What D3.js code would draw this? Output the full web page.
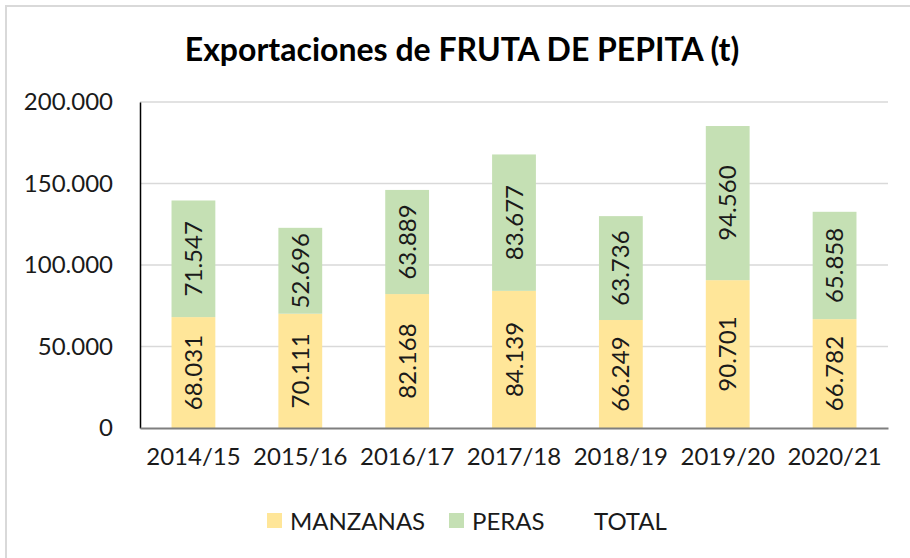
<!DOCTYPE html>
<html>
<head>
  <meta charset="utf-8">
  <title>Exportaciones de FRUTA DE PEPITA</title>
  <script src="https://cdn.jsdelivr.net/npm/d3@7"></script>
  <style>
    body { margin: 0; background: #fff; }
    text { font-family: Lato, "Liberation Sans", Arial, sans-serif; }
  </style>
</head>
<body>
  <script>
  // datos del grafico
  var campanas = ["2014/15", "2015/16", "2016/17", "2017/18", "2018/19", "2019/20", "2020/21"];
  var manzanas = [68031, 70111, 82168, 84139, 66249, 90701, 66782];
  var peras = [71547, 52696, 63889, 83677, 63736, 94560, 65858];
  var ticksY = [0, 50000, 100000, 150000, 200000];
  var series = ["MANZANAS", "PERAS", "TOTAL"];
  var colores = ["#FFE699", "#C5E0B4", "none"];

  var ancho = 910, alto = 558;
  var margen = {left: 140, right: 22, top: 102, bottom: 130};

  var svg = d3.select("body").append("svg")
      .attr("width", ancho)
      .attr("height", alto);

  // marco del grafico
  svg.append("rect")
      .attr("x", 6).attr("y", 6)
      .attr("width", ancho + 20).attr("height", alto + 20)
      .attr("fill", "#fff")
      .attr("stroke", "#d9d9d9")
      .attr("stroke-width", 2);

  svg.append("text")
      .attr("x", 462).attr("y", 61)
      .attr("text-anchor", "middle")
      .attr("font-size", 32)
      .attr("font-weight", "bold")
      .attr("fill", "#000")
      .text("Exportaciones de FRUTA DE PEPITA (t)");

  var x = d3.scaleBand()
      .domain(campanas)
      .range([margen.left, ancho - margen.right])
      .paddingInner(0.59)
      .paddingOuter(0.295);

  var y = d3.scaleLinear()
      .domain([0, 200000])
      .range([428, margen.top]);

  var fmt = d3.formatLocale({decimal: ",", thousands: ".", grouping: [3], currency: ["", ""]}).format(",");

  // lineas de division
  svg.append("g").selectAll("line")
      .data(ticksY.slice(1))
      .enter().append("line")
      .attr("x1", margen.left).attr("x2", ancho - margen.right)
      .attr("y1", function(d) { return y(d); })
      .attr("y2", function(d) { return y(d); })
      .attr("stroke", "#d9d9d9")
      .attr("stroke-width", 1.5);

  var ejeY = svg.append("g")
      .attr("transform", "translate(" + margen.left + ",0)")
      .call(d3.axisLeft(y).tickValues(ticksY).tickFormat(fmt).tickSize(0).tickPadding(27));
  ejeY.select(".domain").attr("stroke", "#000").attr("stroke-width", 1.5);
  ejeY.selectAll("text").attr("font-size", 24).attr("fill", "#1a1a1a")
      .attr("font-family", "Lato, 'Liberation Sans', Arial, sans-serif");

  // datos apilados
  var tabla = campanas.map(function(c, i) {
    return {campana: c, MANZANAS: manzanas[i], PERAS: peras[i]};
  });
  var pila = d3.stack().keys(["MANZANAS", "PERAS"])(tabla);

  var grupos = svg.append("g").selectAll("g")
      .data(pila)
      .enter().append("g")
      .attr("fill", function(d, i) { return colores[i]; });

  grupos.selectAll("rect")
      .data(function(d) { return d; })
      .enter().append("rect")
      .attr("x", function(d) { return x(d.data.campana); })
      .attr("width", x.bandwidth())
      .attr("y", function(d) { return y(d[1]); })
      .attr("height", function(d) { return y(d[0]) - y(d[1]); });

  grupos.selectAll("text")
      .data(function(d) { return d; })
      .enter().append("text")
      .attr("transform", function(d) {
        var cx = x(d.data.campana) + x.bandwidth() / 2;
        var cy = (y(d[0]) + y(d[1])) / 2;
        return "translate(" + cx + "," + cy + ") rotate(-90)";
      })
      .attr("text-anchor", "middle")
      .attr("dy", "0.36em")
      .attr("font-size", 24)
      .attr("fill", "#1a1a1a")
      .text(function(d) { return fmt(d[1] - d[0]); });

  var ejeX = svg.append("g")
      .attr("transform", "translate(0,428)")
      .call(d3.axisBottom(x).tickSize(0).tickPadding(20));
  ejeX.select(".domain").attr("stroke", "#7f7f7f").attr("stroke-width", 2);
  ejeX.selectAll("text").attr("font-size", 24).attr("fill", "#1a1a1a")
      .attr("font-family", "Lato, 'Liberation Sans', Arial, sans-serif");

  // leyenda
  var posLeyenda = [267, 449, 571];
  var leyenda = svg.append("g").selectAll("g")
      .data(series)
      .enter().append("g")
      .attr("transform", function(d, i) { return "translate(" + posLeyenda[i] + ",513)"; });
  leyenda.append("rect")
      .attr("width", 15).attr("height", 15)
      .attr("fill", function(d, i) { return colores[i]; });
  leyenda.append("text")
      .attr("x", 23).attr("y", 8)
      .attr("dy", "0.36em")
      .attr("font-size", 24)
      .attr("fill", "#1a1a1a")
      .text(function(d) { return d; });
  </script>
</body>
</html>
